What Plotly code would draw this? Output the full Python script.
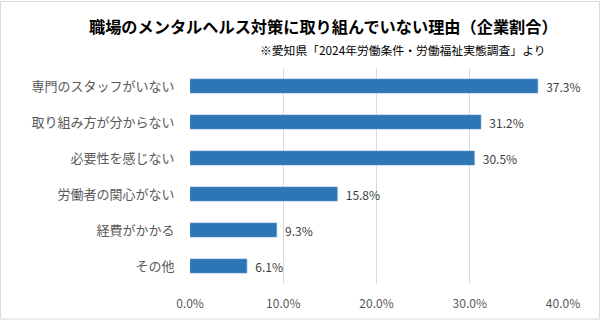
import plotly.graph_objects as go

categories = ["専門のスタッフがいない", "取り組み方が分からない", "必要性を感じない",
              "労働者の関心がない", "経費がかかる", "その他"]
values = [37.3, 31.2, 30.5, 15.8, 9.3, 6.1]
tick_vals = [0, 10, 20, 30, 40]
tick_text = ["0.0%", "10.0%", "20.0%", "30.0%", "40.0%"]

FONT = "Noto Sans CJK JP"
L, R, T, B = 190, 37, 68, 36
W, H = 600, 323
pw, ph = W - L - R, H - T - B

fig = go.Figure(go.Bar(
    y=categories, x=values, orientation="h",
    marker=dict(color="#2E75B6", line=dict(color="#5B9BD5", width=0.6)),
    width=0.39,
    text=[f"  {v:.1f}%" for v in values], textposition="outside",
    textfont=dict(size=12, color="#404040", family=FONT),
    constraintext="none",
    cliponaxis=False,
))

fig.update_layout(
    width=W, height=H,
    margin=dict(l=L, r=R, t=T, b=B),
    paper_bgcolor="white", plot_bgcolor="white",
    font=dict(family=FONT),
    showlegend=False,
    xaxis=dict(range=[0, 40], tickvals=tick_vals, ticktext=tick_text,
               showgrid=True, gridcolor="#D9D9D9", gridwidth=1,
               zeroline=False, showline=False,
               ticks="outside", ticklen=9, tickcolor="rgba(0,0,0,0)",
               tickfont=dict(size=12, color="#595959", family=FONT)),
    yaxis=dict(categoryorder="array", categoryarray=categories[::-1],
               showgrid=False, zeroline=False, showline=False,
               ticks="outside", ticklen=12, tickcolor="rgba(0,0,0,0)",
               tickfont=dict(size=13, color="#595959", family=FONT)),
    annotations=[
        dict(text="<b>職場のメンタルヘルス対策に取り組んでいない理由（企業割合）</b>",
             xref="paper", yref="paper",
             x=(323.5 - L) / pw, y=(H - B - 25) / ph,
             xanchor="center", yanchor="middle", showarrow=False,
             font=dict(size=16.2, color="#000000", family=FONT)),
        dict(text="※愛知県「2024年労働条件・労働福祉実態調査」より",
             xref="paper", yref="paper",
             x=(548 - L) / pw, y=(H - B - 49) / ph,
             xanchor="right", yanchor="middle", showarrow=False,
             font=dict(size=11.8, color="#000000", family=FONT)),
    ],
    shapes=[dict(type="rect", xref="paper", yref="paper",
                 x0=(0.5 - L) / pw, x1=(W - 0.5 - L) / pw,
                 y0=-(B - 0.5) / ph, y1=(H - B - 0.5) / ph,
                 line=dict(color="#D9D9D9", width=1), fillcolor="rgba(0,0,0,0)")],
)

fig.write_html("out.html")
